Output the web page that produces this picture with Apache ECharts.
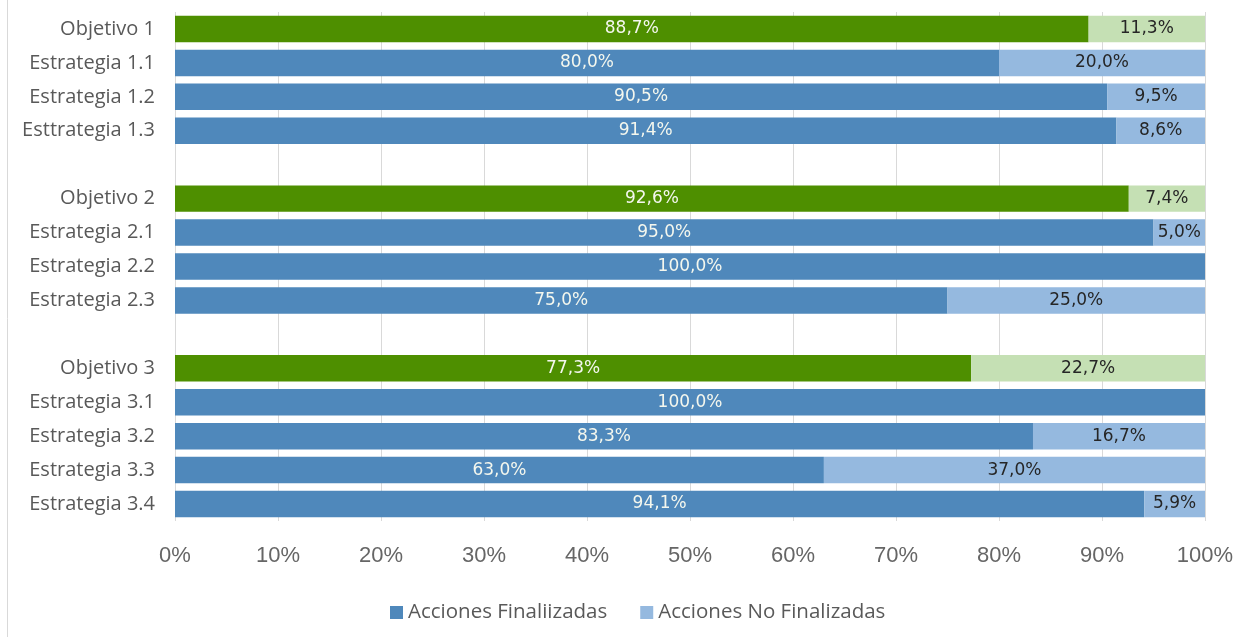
<!DOCTYPE html>
<html>
<head>
<meta charset="utf-8">
<script src="https://cdn.jsdelivr.net/npm/echarts@6/dist/echarts.min.js"></script>
<style>
    html, body { margin: 0; padding: 0; background: #fff; }
    #chart { width: 1234px; height: 637px; }
</style>
</head>
<body>
<div id="chart"></div>
<script>
// filas del gráfico (las vacías separan los objetivos)
var categorias = [
    "Objetivo 1", "Estrategia 1.1", "Estrategia 1.2", "Esttrategia 1.3", " ",
    "Objetivo 2", "Estrategia 2.1", "Estrategia 2.2", "Estrategia 2.3", "  ",
    "Objetivo 3", "Estrategia 3.1", "Estrategia 3.2", "Estrategia 3.3", "Estrategia 3.4"
];
var finalizadas = [88.7, 80.0, 90.5, 91.4, null, 92.6, 95.0, 100.0, 75.0, null, 77.3, 100.0, 83.3, 63.0, 94.1];
var noFinalizadas = [11.3, 20.0, 9.5, 8.6, null, 7.4, 5.0, 0, 25.0, null, 22.7, 0, 16.7, 37.0, 5.9];
var ticks = ["0%", "10%", "20%", "30%", "40%", "50%", "60%", "70%", "80%", "90%", "100%"];

var azul = "#4f88bb", azulClaro = "#95b9df";
var verde = "#4e8f00", verdeClaro = "#c5e0b4";

function esObjetivo(i) {
    return categorias[i].indexOf("Objetivo") === 0;
}

function fmt(p) {
    if (!p.value) return "";
    return p.value.toFixed(1).replace(".", ",") + "%";
}

let chartInstance = echarts.init(document.getElementById("chart"));

let option = {
    animation: false,
    grid: { left: 175, right: 29, top: 12, bottom: 116, containLabel: false, outerBoundsMode: "none" },
    legend: {
        top: 597,
        left: 385,
        itemWidth: 13,
        itemHeight: 13,
        itemGap: 33,
        icon: "rect",
        textStyle: { fontFamily: "Open Sans", fontSize: 20.5, color: "#595959" },
        data: ["Acciones Finaliizadas", "Acciones No Finalizadas"]
    },
    xAxis: {
        type: "value",
        min: 0,
        max: 100,
        interval: 10,
        axisLine: { show: false },
        axisTick: { show: false },
        splitLine: { show: true, lineStyle: { color: "#d9d9d9", width: 1 } },
        axisLabel: {
            margin: 24,
            fontFamily: "Liberation Sans",
            fontSize: 22,
            color: "#666",
            formatter: function (v) { return ticks[Math.round(v / 10)]; }
        }
    },
    yAxis: {
        type: "category",
        inverse: true,
        data: categorias,
        axisLine: { show: false },
        axisTick: { show: false },
        axisLabel: {
            margin: 20,
            fontFamily: "Open Sans",
            fontSize: 20,
            color: "#595959"
        }
    },
    series: [
        {
            name: "Acciones Finaliizadas",
            type: "bar",
            stack: "total",
            barCategoryGap: "22%",
            itemStyle: { color: azul },
            label: {
                show: true,
                position: "inside",
                color: "#f4f7ee",
                fontFamily: "DejaVu Sans",
                fontSize: 17,
                formatter: fmt
            },
            data: finalizadas.map(function (v, i) {
                return esObjetivo(i) ? { value: v, itemStyle: { color: verde } } : v;
            })
        },
        {
            name: "Acciones No Finalizadas",
            type: "bar",
            stack: "total",
            itemStyle: { color: azulClaro },
            label: {
                show: true,
                position: "inside",
                color: "#262626",
                fontFamily: "DejaVu Sans",
                fontSize: 17,
                formatter: fmt
            },
            data: noFinalizadas.map(function (v, i) {
                return esObjetivo(i) ? { value: v, itemStyle: { color: verdeClaro } } : v;
            })
        }
    ],
    graphic: [
        {
            type: "line",
            shape: { x1: 7.5, y1: 0, x2: 7.5, y2: 637 },
            style: { stroke: "#d9d9d9", lineWidth: 1 }
        }
    ]
};

chartInstance.setOption(option);
window.addEventListener("resize", chartInstance.resize);
</script>
</body>
</html>
